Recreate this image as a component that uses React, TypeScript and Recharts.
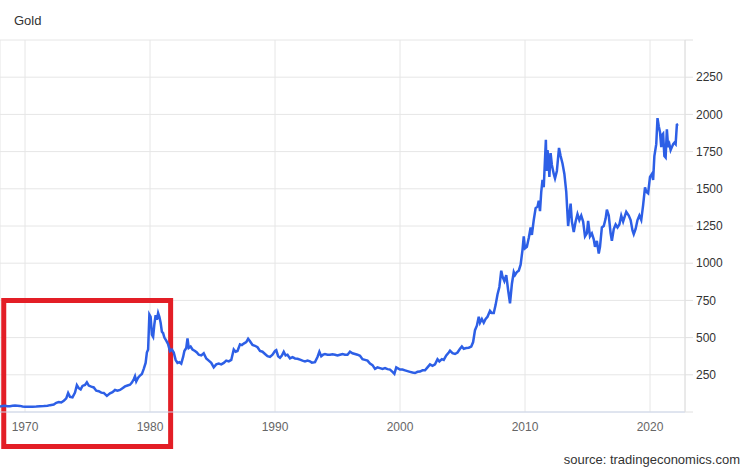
import { LineChart, Line, XAxis, YAxis, CartesianGrid, ReferenceArea } from 'recharts';

// gold price (year as a fraction, USD)
const years = [
  1968.0, 1968.2, 1968.4, 1968.6, 1968.8, 1969.0, 1969.2, 1969.4, 1969.6, 1969.8,
  1970.0, 1970.3, 1970.6, 1970.9, 1971.2, 1971.5, 1971.8, 1972.0, 1972.3, 1972.5,
  1972.7, 1972.9, 1973.1, 1973.3, 1973.45, 1973.6, 1973.8, 1974.0, 1974.15, 1974.3,
  1974.45, 1974.6, 1974.8, 1974.95, 1975.1, 1975.3, 1975.5, 1975.7, 1975.9, 1976.1,
  1976.3, 1976.55, 1976.8, 1977.0, 1977.2, 1977.4, 1977.6, 1977.8, 1978.0, 1978.2,
  1978.4, 1978.55, 1978.7, 1978.8, 1978.9, 1979.05, 1979.2, 1979.35, 1979.5, 1979.65,
  1979.75, 1979.85, 1979.95, 1980.05, 1980.15, 1980.25, 1980.35, 1980.45, 1980.55, 1980.65,
  1980.75, 1980.85, 1980.95, 1981.05, 1981.15, 1981.3, 1981.45, 1981.6, 1981.75, 1981.9,
  1982.05, 1982.2, 1982.35, 1982.5, 1982.65, 1982.75, 1982.9, 1983.0, 1983.1, 1983.25,
  1983.4, 1983.6, 1983.75, 1983.9, 1984.1, 1984.3, 1984.5, 1984.7, 1984.9, 1985.1,
  1985.3, 1985.5, 1985.7, 1985.9, 1986.1, 1986.3, 1986.5, 1986.7, 1986.85, 1987.0,
  1987.2, 1987.35, 1987.5, 1987.7, 1987.85, 1988.0, 1988.2, 1988.4, 1988.6, 1988.8,
  1989.0, 1989.2, 1989.4, 1989.6, 1989.8, 1990.0, 1990.1, 1990.25, 1990.4, 1990.55,
  1990.7, 1990.85, 1991.0, 1991.2, 1991.4, 1991.6, 1991.8, 1992.0, 1992.2, 1992.4,
  1992.6, 1992.8, 1992.95, 1993.2, 1993.4, 1993.55, 1993.7, 1993.85, 1994.0, 1994.2,
  1994.4, 1994.6, 1994.8, 1995.0, 1995.2, 1995.4, 1995.6, 1995.8, 1996.0, 1996.2,
  1996.4, 1996.6, 1996.8, 1997.0, 1997.2, 1997.4, 1997.6, 1997.8, 1998.0, 1998.2,
  1998.4, 1998.6, 1998.8, 1999.0, 1999.2, 1999.4, 1999.55, 1999.7, 1999.8, 2000.0,
  2000.2, 2000.4, 2000.6, 2000.8, 2001.0, 2001.2, 2001.4, 2001.6, 2001.8, 2002.0,
  2002.2, 2002.4, 2002.6, 2002.8, 2003.0, 2003.15, 2003.35, 2003.5, 2003.7, 2003.9,
  2004.0, 2004.2, 2004.4, 2004.6, 2004.8, 2004.95, 2005.1, 2005.3, 2005.5, 2005.7,
  2005.85, 2006.0, 2006.15, 2006.3, 2006.4, 2006.55, 2006.7, 2006.85, 2007.0, 2007.2,
  2007.35, 2007.5, 2007.65, 2007.8, 2007.95, 2008.1, 2008.2, 2008.35, 2008.5, 2008.65,
  2008.8, 2008.95, 2009.1, 2009.2, 2009.35, 2009.5, 2009.65, 2009.8, 2009.9, 2010.0,
  2010.15, 2010.3, 2010.45, 2010.55, 2010.7, 2010.85, 2011.0, 2011.1, 2011.2, 2011.3,
  2011.4, 2011.5, 2011.6, 2011.67, 2011.72, 2011.8, 2011.88, 2011.95, 2012.05, 2012.15,
  2012.3, 2012.4, 2012.55, 2012.72, 2012.85, 2013.0, 2013.15, 2013.3, 2013.45, 2013.55,
  2013.65, 2013.75, 2013.9, 2014.05, 2014.2, 2014.35, 2014.5, 2014.65, 2014.8, 2014.95,
  2015.05, 2015.2, 2015.35, 2015.5, 2015.6, 2015.75, 2015.9, 2016.0, 2016.15, 2016.3,
  2016.45, 2016.55, 2016.7, 2016.85, 2016.95, 2017.1, 2017.25, 2017.4, 2017.55, 2017.7,
  2017.85, 2018.0, 2018.1, 2018.3, 2018.45, 2018.6, 2018.7, 2018.85, 2019.0, 2019.15,
  2019.3, 2019.45, 2019.6, 2019.7, 2019.85, 2020.0, 2020.15, 2020.25, 2020.35, 2020.5,
  2020.6, 2020.7, 2020.8, 2020.9, 2020.95, 2021.05, 2021.15, 2021.25, 2021.35, 2021.45,
  2021.55, 2021.65, 2021.75, 2021.85, 2021.95, 2022.05, 2022.15, 2022.25,
];

const prices = [
  36, 40, 42, 39, 39, 42, 43, 42, 41, 37,
  35, 36, 36, 37, 39, 40, 42, 46, 50, 62,
  67, 64, 75, 92, 128, 102, 98, 130, 180, 160,
  152, 175, 182, 200, 178, 170, 165, 143, 140, 130,
  128, 108, 125, 133, 148, 143, 148, 160, 172, 178,
  183, 198, 220, 240, 205, 230, 245, 255, 290, 330,
  400, 420, 655, 640, 520, 505, 590, 650, 620, 665,
  640, 600, 540, 530, 500, 480, 455, 410, 420, 400,
  350, 330, 335, 325, 370, 410, 430, 495, 430, 440,
  420, 410, 400, 385, 380, 395, 360, 345, 330, 300,
  320, 325, 320, 330, 345, 340, 350, 420, 405, 410,
  455, 450, 460, 470, 492, 475, 450, 445, 435, 410,
  405, 390, 375, 370, 385, 410, 415, 375, 365, 380,
  405, 380, 385, 360, 368, 360, 358, 352, 345, 340,
  345, 340, 332, 335, 370, 405, 375, 385, 390, 385,
  385, 388, 385, 380, 385, 390, 385, 385, 405, 395,
  390, 385, 378, 355, 350, 345, 325, 315, 290, 300,
  295, 290, 295, 288, 285, 270, 257, 300, 295, 285,
  285, 280, 275, 270, 265, 262, 270, 272, 280, 280,
  300, 320, 310, 320, 355, 340, 355, 350, 380, 400,
  412, 395, 390, 400, 425, 440, 425, 430, 432, 440,
  470, 550, 580, 640, 600, 625, 600, 625, 640, 680,
  665, 665, 720, 790, 840, 950, 910, 880, 920, 820,
  730, 860, 940, 920, 940, 950, 990, 1090, 1180, 1100,
  1110, 1170, 1240, 1190, 1290, 1370, 1380, 1420, 1350, 1480,
  1560, 1510, 1700, 1830, 1620, 1760, 1700, 1580, 1740, 1660,
  1600, 1570, 1620, 1775, 1720, 1670, 1600, 1480, 1250, 1330,
  1400, 1280, 1210, 1280, 1330, 1290, 1320, 1280, 1180, 1200,
  1285, 1180, 1200, 1160, 1110, 1150, 1065, 1110, 1240, 1250,
  1300, 1360, 1320, 1200, 1150, 1230, 1260, 1240, 1260, 1320,
  1280, 1320, 1345, 1320, 1290, 1220, 1195, 1230, 1290, 1320,
  1290, 1390, 1510, 1480, 1470, 1580, 1600, 1560, 1720, 1800,
  1975, 1920, 1880, 1780, 1860, 1870, 1720, 1710, 1900, 1780,
  1800, 1760, 1780, 1800, 1810, 1800, 1930, 1935,
];

const xTicks = [1970, 1980, 1990, 2000, 2010, 2020];
const yTicks = [0, 250, 500, 750, 1000, 1250, 1500, 1750, 2000, 2250, 2500];

const data = years.map((year, i) => ({ year, price: prices[i] }));

const font = '"Liberation Sans", Arial, sans-serif';

export default function App() {
  return (
    <div style={{ position: 'absolute', left: 0, top: 0, width: 746, height: 468, fontFamily: font, background: '#fff' }}>
      <div style={{ position: 'absolute', left: 14, top: 13, fontSize: 13, color: '#333' }}>Gold</div>
      <LineChart width={746} height={468} data={data} margin={{ top: 40, right: 0, bottom: 26, left: 0 }}>
        <CartesianGrid stroke="#e6e6e6" />
        <XAxis
          dataKey="year"
          type="number"
          domain={[1968, 2022.8]}
          ticks={xTicks}
          allowDataOverflow
          height={30}
          tickLine={false}
          tickSize={0}
          tickMargin={10}
          axisLine={{ stroke: '#ccd6eb' }}
          tick={{ fill: '#666', fontSize: 12, fontFamily: font }}
        />
        <YAxis
          orientation="right"
          type="number"
          domain={[0, 2500]}
          ticks={yTicks}
          width={61}
          tickSize={8}
          tickMargin={3}
          axisLine={{ stroke: '#e0e0e0' }}
          tickLine={{ stroke: '#e0e0e0' }}
          tickFormatter={(v: number) => (v === 0 || v === 2500 ? '' : String(v))}
          tick={{ fill: '#333', fontSize: 12, fontFamily: font, textAnchor: 'start' }}
        />
        <Line
          type="linear"
          dataKey="price"
          stroke="#2d5fe6"
          strokeWidth={2.5}
          dot={false}
          isAnimationActive={false}
        />
        <ReferenceArea
          x1={1968.3}
          x2={1981.65}
          y1={-232}
          y2={750}
          ifOverflow="visible"
          fill="none"
          fillOpacity={0}
          stroke="#e31e26"
          strokeWidth={5}
        />
      </LineChart>
      <div style={{ position: 'absolute', right: 6, top: 452, fontSize: 13, color: '#333' }}>
        source: tradingeconomics.com
      </div>
    </div>
  );
}
